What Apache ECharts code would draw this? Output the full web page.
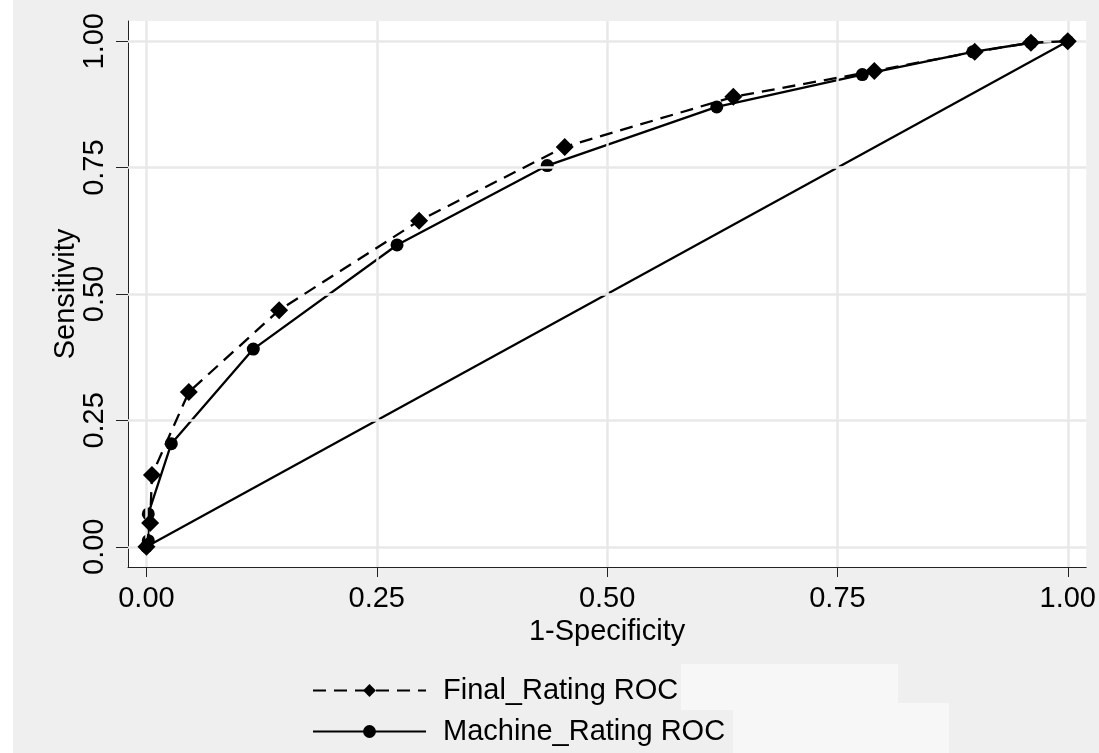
<!DOCTYPE html>
<html>
<head>
<meta charset="utf-8">
<script src="https://cdn.jsdelivr.net/npm/echarts@6/dist/echarts.min.js"></script>
<style>
html,body{margin:0;padding:0;background:#ffffff;}
#chart{width:1099px;height:753px;}
</style>
</head>
<body>
<div id="chart"></div>
<script>
// ---- data ----
const finalX = [0, 0.004, 0.006, 0.046, 0.144, 0.296, 0.454, 0.637, 0.790, 0.899, 0.960, 1.0];
const finalY = [0, 0.047, 0.142, 0.306, 0.468, 0.645, 0.791, 0.890, 0.941, 0.979, 0.997, 1.0];
const machineX = [0, 0.002, 0.002, 0.027, 0.116, 0.272, 0.435, 0.619, 0.777, 0.897, 0.960, 1.0];
const machineY = [0, 0.012, 0.065, 0.204, 0.391, 0.597, 0.754, 0.870, 0.934, 0.979, 0.997, 1.0];
const refX = [0, 1];
const refY = [0, 1];
const tickValues = [0, 0.25, 0.5, 0.75, 1];
const seriesNames = ['Final_Rating ROC', 'Machine_Rating ROC'];
const xTitle = '1-Specificity';
const yTitle = 'Sensitivity';

const zip = (xs, ys) => xs.map((x, i) => [x, ys[i]]);
const FONT = '"Liberation Sans", Arial, sans-serif';
const FS = 29;

const chart = echarts.init(document.getElementById('chart'), null, {renderer: 'canvas'});
const gridLineData = tickValues.map(v => ({xAxis: v})).concat(tickValues.map(v => ({yAxis: v})));

const legendCommon = {
  orient: 'horizontal', left: 307,
  itemWidth: 113, itemHeight: 16,
  textStyle: {fontFamily: FONT, fontSize: FS, color: '#000', padding: [0, 0, 0, 12]},
  selectedMode: false
};

chart.setOption({
  backgroundColor: '#efefef',
  animation: false,
  graphic: [
    {type: 'rect', left: 0, top: 0, shape: {width: 13, height: 753}, style: {fill: '#ffffff'}, silent: true},
    {type: 'rect', left: 681, top: 664, shape: {width: 217, height: 46}, style: {fill: '#f7f7f7'}, silent: true, z: -1},
    {type: 'rect', left: 733, top: 703, shape: {width: 216, height: 50}, style: {fill: '#f7f7f7'}, silent: true, z: -1}
  ],
  grid: {
    left: 128, right: 11, top: 21, bottom: 186,
    show: true, backgroundColor: '#ffffff', borderWidth: 0
  },
  xAxis: {
    type: 'value', min: -0.02, max: 1.02,
    name: xTitle, nameLocation: 'middle', nameGap: 50, nameMoveOverlap: false,
    nameTextStyle: {fontFamily: FONT, fontSize: FS, color: '#000'},
    axisLine: {show: true, onZero: false, lineStyle: {color: '#222', width: 1}},
    axisTick: {show: true, length: 10, customValues: tickValues, lineStyle: {color: '#222'}},
    axisLabel: {customValues: tickValues, margin: 17, fontFamily: FONT, fontSize: FS, color: '#000',
      formatter: v => v.toFixed(2)},
    splitLine: {show: false}
  },
  yAxis: {
    type: 'value', min: -0.04, max: 1.04,
    name: yTitle, nameLocation: 'middle', nameGap: 48, nameMoveOverlap: false,
    nameTextStyle: {fontFamily: FONT, fontSize: FS, color: '#000'},
    axisLine: {show: true, onZero: false, lineStyle: {color: '#222', width: 1}},
    axisTick: {show: true, length: 12, customValues: tickValues, lineStyle: {color: '#222'}},
    axisLabel: {customValues: tickValues, rotate: 90, margin: 19, fontFamily: FONT, fontSize: FS, color: '#000',
      formatter: v => v.toFixed(2)},
    splitLine: {show: false}
  },
  legend: [
    Object.assign({}, legendCommon, {top: 671, data: [seriesNames[0]]}),
    Object.assign({}, legendCommon, {top: 712, data: [seriesNames[1]]})
  ],
  series: [
    {
      type: 'line', name: 'grid', data: [], silent: true, z: 1,
      markLine: {
        silent: true, symbol: ['none', 'none'], label: {show: false},
        lineStyle: {color: '#e8e8e8', width: 2.5, type: 'solid'},
        emphasis: {disabled: true},
        data: gridLineData
      }
    },
    {
      type: 'line', name: 'ref', data: zip(refX, refY), showSymbol: false, symbol: 'none',
      lineStyle: {color: '#000', width: 2.2}, z: 3, silent: true
    },
    {
      type: 'line', name: seriesNames[1], data: zip(machineX, machineY),
      symbol: 'circle', symbolSize: 13, showAllSymbol: true,
      itemStyle: {color: '#000'},
      lineStyle: {color: '#000', width: 2.3, type: 'solid'}, z: 4
    },
    {
      type: 'line', name: seriesNames[0], data: zip(finalX, finalY),
      symbol: 'diamond', symbolSize: 18, showAllSymbol: true,
      itemStyle: {color: '#000'},
      lineStyle: {color: '#000', width: 2.3, type: [13, 8]}, z: 5
    }
  ]
});
</script>
</body>
</html>
